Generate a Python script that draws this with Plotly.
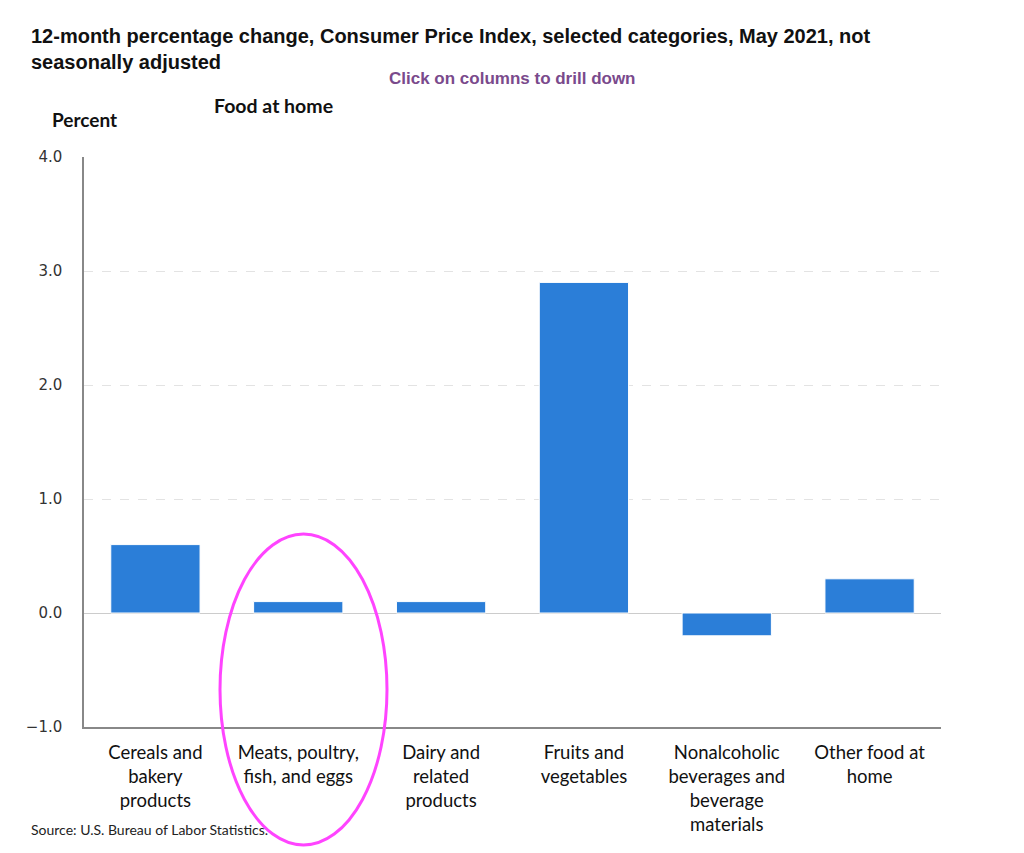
import plotly.graph_objects as go

categories = [
    "Cereals and<br>bakery<br>products",
    "Meats, poultry,<br>fish, and eggs",
    "Dairy and<br>related<br>products",
    "Fruits and<br>vegetables",
    "Nonalcoholic<br>beverages and<br>beverage<br>materials",
    "Other food at<br>home",
]
values = [0.6, 0.1, 0.1, 2.9, -0.2, 0.3]
y_ticks = [-1.0, 0.0, 1.0, 2.0, 3.0, 4.0]

W, H = 1024, 853
OFF = 7  # page offset of the figure in the browser
# plot area in screenshot pixels
PX0, PX1, PY0, PY1 = 83, 940, 156, 726
L, T = PX0 - OFF, PY0 - OFF
R, B = W - (PX1 - OFF), H - (PY1 - OFF)
PW, PH = PX1 - PX0, PY1 - PY0

def px(x):
    return (x - PX0) / PW

def py(y):
    return (PY1 - y) / PH

fig = go.Figure(
    go.Bar(
        x=categories,
        y=values,
        marker=dict(color="#2b7ed8", line=dict(color="white", width=1)),
        hoverinfo="x+y",
    )
)

fig.update_layout(
    width=W,
    height=H,
    margin=dict(l=L, r=R, t=T, b=B),
    paper_bgcolor="white",
    plot_bgcolor="white",
    bargap=0.375,
    showlegend=False,
    font=dict(family="Lato", color="#111"),
)

fig.update_yaxes(
    range=[-1, 4],
    tickvals=y_ticks,
    tickformat=".1f",
    showgrid=True,
    gridcolor="#e3e3e3",
    griddash="dash",
    gridwidth=1,
    zeroline=True,
    zerolinecolor="#cccccc",
    zerolinewidth=1,
    showline=True,
    linecolor="#888888",
    linewidth=1.5,
    ticks="",
    ticklabelstandoff=17,
    tickfont=dict(family="DejaVu Sans", size=15, color="#333"),
)
fig.update_xaxes(
    showline=True,
    linecolor="#888888",
    linewidth=1.5,
    showgrid=False,
    ticks="",
    ticklabelstandoff=8,
    tickfont=dict(family="Lato", size=18.5, color="#111"),
    tickangle=0,
)

annotations = [
    dict(text="<b>12-month percentage change, Consumer Price Index, selected categories, May 2021, not<br>seasonally adjusted</b>",
         x=px(28), y=py(22), xanchor="left", yanchor="top", align="left",
         font=dict(family="Liberation Sans", size=20, color="#111"), showarrow=False),
    dict(text="<b>Click on columns to drill down</b>",
         x=px(512), y=py(77), xanchor="center", yanchor="middle",
         font=dict(family="Liberation Sans", size=17, color="#7a4a8c"), showarrow=False),
    dict(text="<b>Food at home</b>",
         x=px(211), y=py(105), xanchor="left", yanchor="middle",
         font=dict(family="Lato", size=19.5, color="#111"), showarrow=False),
    dict(text="<b>Percent</b>",
         x=px(49), y=py(118), xanchor="left", yanchor="middle",
         font=dict(family="Lato", size=19, color="#111"), showarrow=False),
    dict(text="Source: U.S. Bureau of Labor Statistics.",
         x=px(28), y=py(829), xanchor="left", yanchor="middle",
         font=dict(family="Lato", size=14, color="#222"), showarrow=False),
]
for a in annotations:
    a["xref"] = "paper"
    a["yref"] = "paper"
fig.update_layout(annotations=annotations)

fig.add_shape(
    type="circle", xref="paper", yref="paper",
    x0=px(219), x1=px(386), y0=py(844), y1=py(533),
    line=dict(color="#ff44ff", width=3), layer="above",
)

fig.write_html("out.html")
